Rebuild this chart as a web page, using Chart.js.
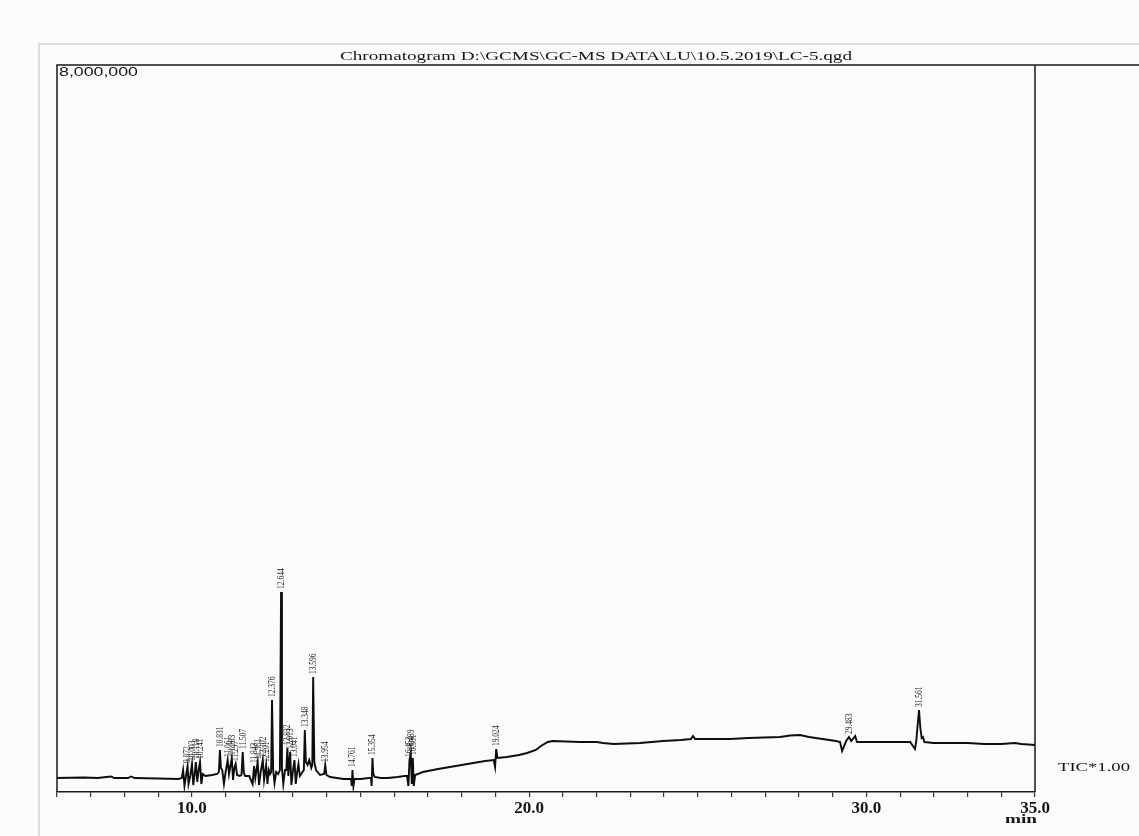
<!DOCTYPE html>
<html>
<head>
<meta charset="utf-8">
<script src="https://cdn.jsdelivr.net/npm/chart.js@4.4.1/dist/chart.umd.min.js"></script>
<style>
  html, body { margin: 0; padding: 0; background: #fbfbfb; }
  canvas { display: block; }
</style>
</head>
<body>
<canvas id="tic" width="1139" height="836"></canvas>
<script>
// Chromatogram data (retention time in min, TIC counts)
const retTime = [
  6.00, 6.80, 7.20, 7.60, 7.70, 8.10, 8.20, 8.30, 9.00, 9.60, 9.70,
  9.74, 9.78, 9.82, 9.872, 9.90, 9.95, 10.003, 10.04, 10.08, 10.118, 10.16, 10.20, 10.241, 10.28, 10.32, 10.40,
  10.60, 10.75, 10.80, 10.831, 10.86, 10.90, 10.95, 11.00, 11.061, 11.10, 11.183, 11.22, 11.26, 11.297, 11.34, 11.42,
  11.47, 11.507, 11.54, 11.58, 11.70, 11.80, 11.843, 11.88, 11.951, 11.99, 12.04, 12.102, 12.14, 12.201, 12.24, 12.28, 12.32,
  12.35, 12.376, 12.41, 12.45, 12.50, 12.56, 12.61, 12.644, 12.67, 12.71, 12.76,
  12.80, 12.832, 12.86, 12.913, 12.95, 13.00, 13.041, 13.08, 13.12, 13.16, 13.20, 13.28,
  13.32, 13.348, 13.38, 13.43, 13.48, 13.54, 13.57, 13.596, 13.63, 13.68, 13.75, 13.80,
  13.92, 13.954, 13.99, 14.10, 14.30, 14.50, 14.65, 14.72, 14.74, 14.761, 14.79, 14.82, 15.00, 15.25,
  15.31, 15.33, 15.354, 15.38, 15.42, 15.60, 15.80, 16.10, 16.30,
  16.38, 16.42, 16.452, 16.489, 16.52, 16.551, 16.58, 16.62, 16.70,
  16.85, 17.30, 17.65, 18.00, 18.34, 18.70, 18.95, 18.99, 19.024, 19.06, 19.34, 19.70, 19.94, 20.20, 20.35, 20.55, 20.70,
  21.50, 22.00, 22.19, 22.50, 23.29, 23.97, 24.50, 24.80, 24.86, 24.92, 25.50, 25.96, 26.50, 27.44, 27.74, 28.03, 28.30, 28.70, 29.10, 29.22,
  29.28, 29.40, 29.483, 29.55, 29.67, 29.72, 30.00, 30.50, 31.00, 31.30,
  31.44, 31.48, 31.52, 31.561, 31.60, 31.64, 31.68, 31.72, 32.00, 32.50, 33.00, 33.50, 34.00, 34.40, 34.60, 35.00
];
const intensity = [
  154000, 160000, 154000, 171000, 154000, 154000, 171000, 154000, 149000, 143000, 154000,
  242000, 66000, 165000, 286000, 88000, 176000, 308000, 77000, 187000, 330000, 110000, 242000, 330000, 88000, 198000, 176000,
  187000, 198000, 220000, 462000, 264000, 242000, 88000, 220000, 352000, 198000, 374000, 132000, 264000, 308000, 187000, 176000,
  187000, 440000, 209000, 176000, 176000, 88000, 286000, 154000, 330000, 77000, 220000, 352000, 132000, 297000, 88000, 242000, 198000,
  220000, 1012000, 242000, 99000, 220000, 198000, 242000, 2201000, 264000, 88000, 242000,
  242000, 484000, 176000, 440000, 77000, 242000, 352000, 88000, 220000, 308000, 176000, 220000,
  242000, 682000, 330000, 297000, 352000, 264000, 297000, 1265000, 330000, 242000, 209000, 187000,
  198000, 297000, 187000, 165000, 154000, 143000, 143000, 143000, 66000, 242000, 66000, 143000, 143000, 154000,
  154000, 66000, 374000, 198000, 165000, 154000, 154000, 165000, 176000,
  176000, 66000, 352000, 429000, 88000, 374000, 66000, 187000, 198000,
  220000, 253000, 275000, 297000, 319000, 341000, 352000, 275000, 473000, 374000, 385000, 407000, 429000, 462000, 506000, 550000, 561000,
  550000, 550000, 539000, 528000, 539000, 561000, 572000, 583000, 616000, 583000, 583000, 583000, 594000, 605000, 622000, 627000, 605000, 583000, 561000, 550000,
  451000, 561000, 605000, 561000, 616000, 550000, 550000, 550000, 550000, 550000,
  473000, 561000, 737000, 902000, 704000, 594000, 605000, 550000, 539000, 539000, 539000, 528000, 528000, 539000, 528000, 517000
];
// labelled peaks
const peakTimes = [
  9.872, 10.003, 10.118, 10.241, 10.831, 11.061, 11.183, 11.297, 11.507,
  11.843, 11.951, 12.102, 12.201, 12.376, 12.644, 12.832, 12.913, 13.041,
  13.348, 13.596, 13.954, 14.761, 15.354, 16.452, 16.489, 16.551, 19.024, 29.483, 31.561
];
const labelTicks = [10, 20, 30, 35];
const titleText = 'Chromatogram D:\\GCMS\\GC-MS DATA\\LU\\10.5.2019\\LC-5.qgd';
const yTopLabel = '8,000,000';
const ticLabel = 'TIC*1.00';
const unitLabel = 'min';

// draw text squeezed/stretched to a given width
function fitText(ctx, text, x, y, width, align) {
  const w = ctx.measureText(text).width;
  ctx.save();
  ctx.translate(x, y);
  ctx.scale(width / w, 1);
  ctx.textAlign = align;
  ctx.fillText(text, 0, 0);
  ctx.restore();
}

const decorPlugin = {
  id: 'decor',
  beforeDraw(chart) {
    const ctx = chart.ctx;
    ctx.save();
    ctx.fillStyle = '#fbfbfb';
    ctx.fillRect(0, 0, chart.width, chart.height);
    // outer panel border
    ctx.strokeStyle = '#d4d4d4';
    ctx.lineWidth = 1.5;
    ctx.beginPath();
    ctx.moveTo(39, 836);
    ctx.lineTo(39, 44);
    ctx.lineTo(1139, 44);
    ctx.stroke();
    ctx.restore();
  },
  afterDraw(chart) {
    const ctx = chart.ctx;
    const area = chart.chartArea;
    const xs = chart.scales.x, ys = chart.scales.y;
    ctx.save();
    // frame
    ctx.strokeStyle = '#1a1a1a';
    ctx.lineWidth = 1.5;
    ctx.beginPath();
    ctx.moveTo(area.left, area.bottom);
    ctx.lineTo(area.left, area.top);
    ctx.lineTo(1139, area.top);
    ctx.moveTo(area.right, area.top);
    ctx.lineTo(area.right, area.bottom);
    ctx.stroke();

    ctx.fillStyle = '#161616';
    ctx.textBaseline = 'middle';
    ctx.font = '13px "Liberation Serif"';
    fitText(ctx, titleText, 596, 57, 512, 'center');
    ctx.font = '12px "Liberation Sans"';
    fitText(ctx, yTopLabel, area.left + 2, area.top + 8, 79, 'left');
    ctx.font = '13px "Liberation Serif"';
    fitText(ctx, ticLabel, 1058, 768, 72, 'left');
    ctx.font = 'bold 12px "Liberation Serif"';
    fitText(ctx, unitLabel, area.right + 2, 820, 32, 'right');

    // peak retention-time labels
    ctx.fillStyle = '#2a2a2a';
    ctx.font = '7.5px "Liberation Serif"';
    peakTimes.forEach(t => {
      let top = 0;
      retTime.forEach((rt, i) => {
        if (Math.abs(rt - t) < 0.015 && intensity[i] > top) top = intensity[i];
      });
      const px = xs.getPixelForValue(t);
      const py = ys.getPixelForValue(top);
      ctx.save();
      ctx.translate(px, py - 3);
      ctx.rotate(-Math.PI / 2);
      ctx.scale(1, 1.45);
      ctx.textAlign = 'left';
      ctx.textBaseline = 'middle';
      ctx.fillText(t.toFixed(3), 0, 0);
      ctx.restore();
    });
    ctx.restore();
  }
};

new Chart(document.getElementById('tic').getContext('2d'), {
  type: 'line',
  data: {
    datasets: [{
      data: retTime.map((t, i) => ({ x: t, y: intensity[i] })),
      borderColor: '#0d0d0d',
      borderWidth: 1.9,
      pointRadius: 0,
      tension: 0,
      fill: false
    }]
  },
  options: {
    responsive: false,
    animation: false,
    layout: { padding: { top: 65, left: 57, right: 104, bottom: 0 } },
    plugins: {
      legend: { display: false },
      tooltip: { enabled: false }
    },
    scales: {
      x: {
        type: 'linear',
        min: 6,
        max: 35,
        afterFit: scale => { scale.height = 44; },
        border: { display: true, color: '#1a1a1a', width: 1.5 },
        grid: { drawOnChartArea: false, drawTicks: true, tickLength: 5, color: '#333', lineWidth: 1.2 },
        ticks: {
          stepSize: 1,
          autoSkip: false,
          maxRotation: 0,
          padding: 1,
          color: '#161616',
          font: { family: '"Liberation Serif"', size: 17, weight: 'bold' },
          callback: v => labelTicks.some(l => Math.abs(l - v) < 1e-6) ? v.toFixed(1) : ''
        }
      },
      y: {
        display: false,
        min: 0,
        max: 8000000
      }
    }
  },
  plugins: [decorPlugin]
});
</script>
</body>
</html>
